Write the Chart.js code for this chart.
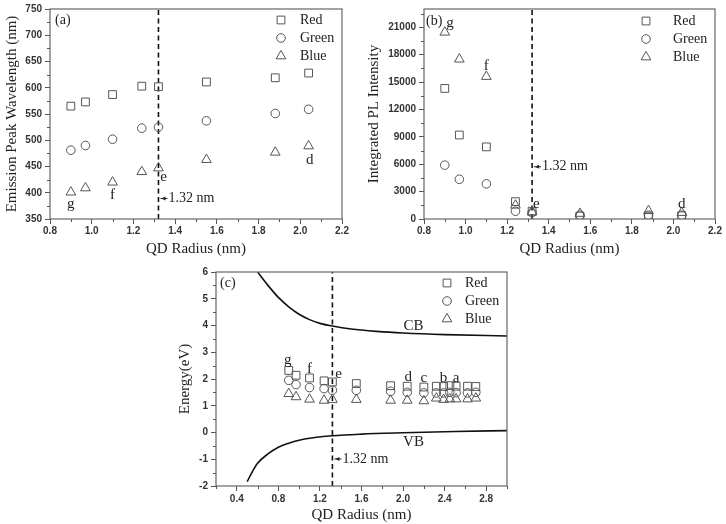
<!DOCTYPE html>
<html><head><meta charset="utf-8">
<script src="https://cdn.jsdelivr.net/npm/chart.js@4.4.1/dist/chart.umd.min.js"></script>
<style>
html,body{margin:0;padding:0;background:#fff;}
body{width:726px;height:524px;position:relative;overflow:hidden;}
.p{position:absolute;}
</style></head><body>
<div class="p" style="left:0;top:0;"><canvas id="ca" width="363" height="262"></canvas></div>
<div class="p" style="left:363px;top:0;"><canvas id="cb" width="363" height="262"></canvas></div>
<div class="p" style="left:160px;top:262px;"><canvas id="cc" width="366" height="262"></canvas></div>
<script>
// ---------------- data ----------------
const seriesNames = ['Red', 'Green', 'Blue'];
const radiusAB = [0.9, 0.97, 1.1, 1.24, 1.32, 1.55, 1.88, 2.04];
const peakRed   = [565, 573, 587, 603, 602, 611, 619, 628];
const peakGreen = [481, 490, 502, 523, 525, 537, 551, 559];
const peakBlue  = [401, 409, 420, 440, 447, 463, 477, 489];
const plRed   = [14300, 9200, 7900, 1900, 850, 320, 320, 360];
const plGreen = [5900, 4350, 3850, 850, 700, 420, 420, 420];
const plBlue  = [20450, 17500, 15600, 1500, 750, 600, 900, 700];
const radiusC = [0.9, 0.97, 1.1, 1.24, 1.32, 1.55, 1.88, 2.04, 2.2, 2.32, 2.39, 2.45, 2.51, 2.62, 2.7];
const eRed   = [2.32, 2.14, 2.04, 1.93, 1.89, 1.83, 1.75, 1.73, 1.70, 1.73, 1.72, 1.75, 1.73, 1.73, 1.72];
const eGreen = [1.95, 1.79, 1.68, 1.64, 1.58, 1.58, 1.54, 1.50, 1.48, 1.48, 1.48, 1.50, 1.49, 1.48, 1.50];
const eBlue  = [1.45, 1.33, 1.24, 1.20, 1.23, 1.23, 1.20, 1.20, 1.18, 1.28, 1.23, 1.25, 1.25, 1.25, 1.28];
const cbRadius = [0.6, 0.7, 0.8, 0.9, 1.0, 1.1, 1.2, 1.32, 1.5, 1.75, 2.0, 2.4, 3.0];
const cbEnergy = [6.0, 5.5, 5.05, 4.7, 4.42, 4.22, 4.08, 3.98, 3.87, 3.78, 3.72, 3.66, 3.61];
const vbRadius = [0.5, 0.55, 0.6, 0.7, 0.8, 0.9, 1.0, 1.15, 1.32, 1.6, 2.0, 2.5, 3.0];
const vbEnergy = [-1.84, -1.46, -1.15, -0.8, -0.55, -0.4, -0.29, -0.19, -0.12, -0.06, -0.01, 0.04, 0.07];
const criticalRadius = 1.32;
const criticalLabel = '1.32 nm';
// ticks
const xTicksAB = [0.8, 1.0, 1.2, 1.4, 1.6, 1.8, 2.0, 2.2];
const xMinorAB = [0.9, 1.1, 1.3, 1.5, 1.7, 1.9, 2.1];
const yTicksA = [350, 400, 450, 500, 550, 600, 650, 700, 750];
const yMinorA = [375, 425, 475, 525, 575, 625, 675, 725];
const yTicksB = [0, 3000, 6000, 9000, 12000, 15000, 18000, 21000];
const yMinorB = [1500, 4500, 7500, 10500, 13500, 16500, 19500, 22500];
const xTicksC = [0.4, 0.8, 1.2, 1.6, 2.0, 2.4, 2.8];
const xMinorC = [0.2, 0.6, 1.0, 1.4, 1.8, 2.2, 2.6, 3.0];
const yTicksC = [-2, -1, 0, 1, 2, 3, 4, 5, 6];
const yMinorC = [-1.5, -0.5, 0.5, 1.5, 2.5, 3.5, 4.5, 5.5];
// point labels
const notesA = [{x:0.9,y:378,t:'g'},{x:1.1,y:395,t:'f'},{x:1.345,y:429,t:'e'},{x:2.045,y:463,t:'d'}];
const notesB = [{x:0.925,y:21450,t:'g'},{x:1.1,y:16770,t:'f'},{x:1.34,y:1680,t:'e'},{x:2.04,y:1680,t:'d'}];
const notesC = [{x:0.89,y:2.72,t:'g'},{x:1.1,y:2.39,t:'f'},{x:1.38,y:2.18,t:'e'},{x:2.05,y:2.08,t:'d'},
                {x:2.2,y:2.05,t:'c'},{x:2.39,y:2.05,t:'b'},{x:2.51,y:2.05,t:'a'},
                {x:2.1,y:3.99,t:'CB'},{x:2.1,y:-0.34,t:'VB'}];

// ---------------- helpers ----------------
const MK = '#555';
const SERIF = "'Liberation Serif','DejaVu Serif',serif";
const SANS = "'Liberation Sans',Arial,sans-serif";
const styles = [{ps:'rect', r:5.5}, {ps:'circle', r:4.3}, {ps:'triangle', r:5.6}];
function pts(xs, ys){ return xs.map((x,i)=>({x:x, y:ys[i]})); }
function seriesSets(xs, list){
  return list.map((ys,i)=>({
    label: seriesNames[i], data: pts(xs, ys), pointStyle: styles[i].ps,
    pointRadius: styles[i].r, pointBorderColor: MK, pointBackgroundColor: 'rgba(0,0,0,0)',
    pointBorderWidth: 1, showLine:false
  }));
}
function vline(x, y0, y1){
  return {label:'_v', data:[{x:x,y:y0},{x:x,y:y1}], showLine:true, pointRadius:0,
    borderColor:'#111', borderWidth:1.6, borderDash:[5,3.5]};
}
function axis(o){
  return {
    type:'linear', min:o.min, max:o.max, position:o.pos,
    afterBuildTicks: s => { s.ticks = o.ticks.map(v=>({value:v})); },
    afterFit: s => { if (o.pos==='bottom') s.height = o.fit; else s.width = o.fit; },
    grid:{display:true, drawOnChartArea:false, drawTicks:true, tickLength:5, tickColor:'#555', tickWidth:1},
    border:{display:false},
    ticks:{font:{family:SANS,size:10,weight:'bold'}, color:'#333', padding:o.tp,
      autoSkip:false, maxRotation:0, callback: v => o.fmt(v)},
    title:{display:true, text:o.title, font:{family:SERIF,size:15}, color:'#222', padding:o.titlePad}
  };
}
function drawMarker(ctx, style, r, x, y){
  ctx.save(); ctx.strokeStyle = MK; ctx.lineWidth = 1;
  if (Chart.helpers && Chart.helpers.drawPoint) {
    ctx.fillStyle='rgba(0,0,0,0)';
    Chart.helpers.drawPoint(ctx, {pointStyle:style, radius:r, rotation:0, borderWidth:1}, x, y);
  } else {
    ctx.beginPath();
    if (style==='rect'){ const s=r*Math.SQRT1_2; ctx.rect(x-s,y-s,2*s,2*s); }
    else if (style==='circle'){ ctx.arc(x,y,r,0,Math.PI*2); }
    else { ctx.moveTo(x, y-r); ctx.lineTo(x+r*0.866,y+r*0.5); ctx.lineTo(x-r*0.866,y+r*0.5); ctx.closePath(); }
    ctx.stroke();
  }
  ctx.restore();
}
const decor = {
  id:'decor',
  afterDraw(chart, args, o){
    const ctx = chart.ctx, a = chart.chartArea, xs = chart.scales.x, ys = chart.scales.y;
    ctx.save();
    // frame
    ctx.strokeStyle = '#666'; ctx.lineWidth = 1.2;
    ctx.strokeRect(a.left, a.top, a.right-a.left, a.bottom-a.top);
    // minor ticks
    ctx.strokeStyle = '#555'; ctx.lineWidth = 1;
    ctx.beginPath();
    o.xMinor.forEach(v=>{ const p = Math.round(xs.getPixelForValue(v))+0.5; ctx.moveTo(p,a.bottom); ctx.lineTo(p,a.bottom+3); });
    o.yMinor.forEach(v=>{ const p = Math.round(ys.getPixelForValue(v))+0.5; ctx.moveTo(a.left,p); ctx.lineTo(a.left-3,p); });
    ctx.stroke();
    // panel label
    ctx.fillStyle = '#222'; ctx.font = '14px ' + SERIF; ctx.textBaseline = 'middle'; ctx.textAlign = 'left';
    ctx.fillText(o.panel, a.left + o.panelPos[0], a.top + o.panelPos[1]);
    // notes
    ctx.font = '15px ' + SERIF; ctx.textAlign = 'center';
    o.notes.forEach(n=>{ ctx.fillText(n.t, xs.getPixelForValue(n.x), ys.getPixelForValue(n.y)); });
    // critical radius arrow + label
    const px = xs.getPixelForValue(criticalRadius), py = ys.getPixelForValue(o.arrowY);
    ctx.strokeStyle = '#222'; ctx.lineWidth = 1;
    ctx.beginPath(); ctx.moveTo(px+2, py); ctx.lineTo(px+9, py); ctx.stroke();
    ctx.beginPath(); ctx.moveTo(px+3, py); ctx.lineTo(px+7, py-2); ctx.lineTo(px+7, py+2); ctx.closePath(); ctx.fillStyle='#222'; ctx.fill();
    ctx.font = '14px ' + SERIF; ctx.textAlign = 'left';
    ctx.fillText(criticalLabel, px+10, py);
    // legend
    const L = o.legend;
    chart.data.datasets.forEach((d, i)=>{
      if (d.label.charAt(0)==='_') return;
      const y = a.top + L.y0 + i*L.dy;
      drawMarker(ctx, d.pointStyle, d.pointRadius, a.right + L.mx, y);
      ctx.fillStyle = '#222'; ctx.font = '14px ' + SERIF; ctx.textAlign = 'left';
      ctx.fillText(d.label, a.right + L.tx, y);
    });
    ctx.restore();
  }
};
Chart.defaults.animation = false;
Chart.defaults.events = [];
function make(id, cfg){
  return new Chart(document.getElementById(id), {
    type:'scatter',
    data:{datasets: cfg.datasets},
    options:{
      responsive:false, animation:false,
      layout:{padding:cfg.pad},
      scales:{x: axis(cfg.x), y: axis(cfg.y)},
      plugins:{legend:{display:false}, tooltip:{enabled:false}, decor: cfg.decor}
    },
    plugins:[decor]
  });
}
const f1 = v => v.toFixed(1);
const f0 = v => String(v);

// (a)
make('ca', {
  datasets: seriesSets(radiusAB, [peakRed, peakGreen, peakBlue]).concat([vline(criticalRadius, 350, 750)]),
  pad:{left:0, right:21, top:5, bottom:0},
  x:{min:0.8, max:2.2, pos:'bottom', ticks:xTicksAB, fmt:f1, fit:43, tp:1, title:'QD Radius (nm)', titlePad:{top:0,bottom:4}},
  y:{min:350, max:750, pos:'left', ticks:yTicksA, fmt:f0, fit:50, tp:3, title:'Emission Peak Wavelength (nm)', titlePad:{top:3,bottom:0}},
  decor:{panel:'(a)', panelPos:[5,11], notes:notesA, xMinor:xMinorAB, yMinor:yMinorA, arrowY:389,
         legend:{mx:-61, tx:-42, y0:11, dy:18}}
});
// (b)
make('cb', {
  datasets: seriesSets(radiusAB, [plRed, plGreen, plBlue]).concat([vline(criticalRadius, 0, 23000)]),
  pad:{left:0, right:11, top:4, bottom:0},
  x:{min:0.8, max:2.2, pos:'bottom', ticks:xTicksAB, fmt:f1, fit:43, tp:1, title:'QD Radius (nm)', titlePad:{top:0,bottom:4}},
  y:{min:0, max:23000, pos:'left', ticks:yTicksB, fmt:f0, fit:61, tp:3, title:'Integrated PL Intensity', titlePad:{top:2,bottom:0}},
  decor:{panel:'(b)', panelPos:[2,12], notes:notesB, xMinor:xMinorAB, yMinor:yMinorB, arrowY:5720,
         legend:{mx:-69, tx:-42, y0:12, dy:18}}
});
// (c)
make('cc', {
  datasets: seriesSets(radiusC, [eRed, eGreen, eBlue]).concat([
    vline(criticalRadius, -2, 6),
    {label:'_cb', data:pts(cbRadius, cbEnergy), showLine:true, pointRadius:0, borderColor:'#111', borderWidth:1.6, cubicInterpolationMode:'monotone'},
    {label:'_vb', data:pts(vbRadius, vbEnergy), showLine:true, pointRadius:0, borderColor:'#111', borderWidth:1.6, cubicInterpolationMode:'monotone'}
  ]),
  pad:{left:12, right:19, top:10, bottom:0},
  x:{min:0.2, max:3.0, pos:'bottom', ticks:xTicksC, fmt:f1, fit:38, tp:2, title:'QD Radius (nm)', titlePad:{top:0,bottom:0}},
  y:{min:-2, max:6, pos:'left', ticks:yTicksC, fmt:f0, fit:44, tp:3, title:'Energy(eV)', titlePad:{top:4,bottom:0}},
  decor:{panel:'(c)', panelPos:[4,11], notes:notesC, xMinor:xMinorC, yMinor:yMinorC, arrowY:-0.99,
         legend:{mx:-60, tx:-42, y0:11, dy:18}}
});
</script>
</body></html>
